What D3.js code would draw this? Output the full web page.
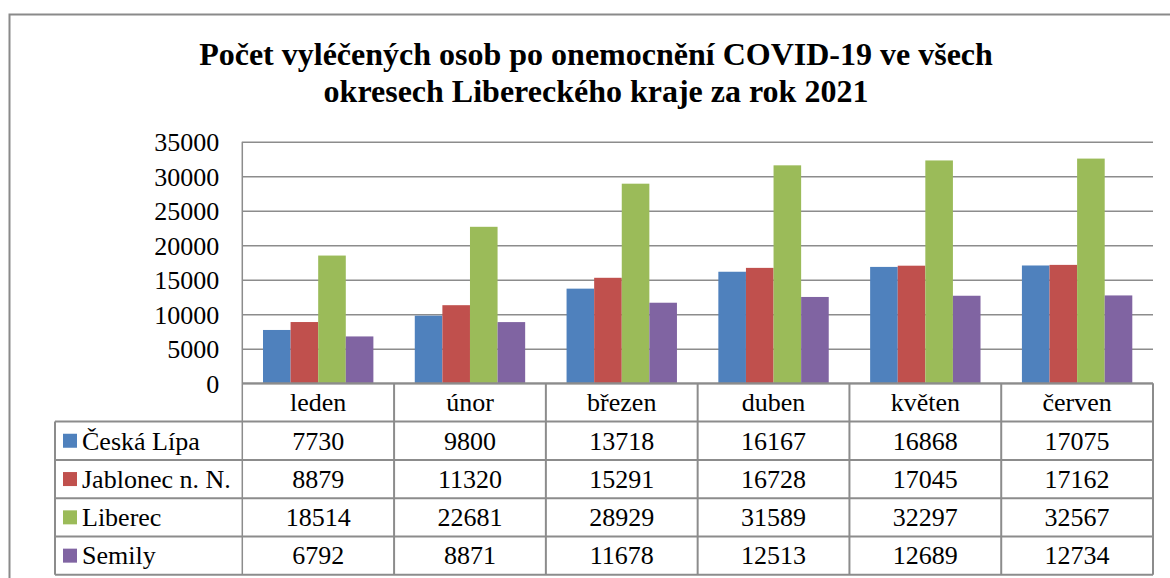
<!DOCTYPE html>
<html>
<head>
<meta charset="utf-8">
<script src="https://cdn.jsdelivr.net/npm/d3@7"></script>
<style>
  html, body { margin: 0; padding: 0; background: #fff; }
  svg { display: block; font-family: "Liberation Serif", "Times New Roman", serif; }
  .axis path { display: none; }
  .axis line { stroke: #8c8c8c; stroke-width: 1.5; }
  .axis text { font-size: 26px; fill: #000; font-family: "Liberation Serif", "Times New Roman", serif; }
</style>
</head>
<body>
<svg id="chart" width="1170" height="578"></svg>
<script>
// data
const months = ['leden', 'únor', 'březen', 'duben', 'květen', 'červen'];
const seriesNames = ['Česká Lípa', 'Jablonec n. N.', 'Liberec', 'Semily'];
const ceskaLipa = [7730, 9800, 13718, 16167, 16868, 17075];
const jablonec = [8879, 11320, 15291, 16728, 17045, 17162];
const liberec = [18514, 22681, 28929, 31589, 32297, 32567];
const semily = [6792, 8871, 11678, 12513, 12689, 12734];
const yTicks = [0, 5000, 10000, 15000, 20000, 25000, 30000, 35000];
const titleLines = ['Počet vyléčených osob po onemocnění COVID-19 ve všech',
                    'okresech Libereckého kraje za rok 2021'];

const seriesValues = [ceskaLipa, jablonec, liberec, semily];
const colors = ['#4f81bd', '#c0504d', '#9bbb59', '#8064a2'];

const margin = { top: 141.8, left: 242.3, right: 1153, bottom: 383.3 };
const rowH = 38.3;
const legendLeft = 55;
const gridColor = '#8c8c8c';
const fontSize = '26px';

const svg = d3.select('#chart');

// chart frame (cut by the page edge on the right and bottom)
svg.append('rect')
    .attr('x', 9.5).attr('y', 14.5)
    .attr('width', 1200).attr('height', 600)
    .attr('fill', 'none')
    .attr('stroke', '#8a8a8a')
    .attr('stroke-width', 2);

// title
svg.append('text')
    .attr('text-anchor', 'middle')
    .style('font-size', '32px')
    .style('font-weight', 'bold')
    .selectAll('tspan')
    .data(titleLines)
    .enter().append('tspan')
    .attr('x', 596)
    .attr('y', (d, i) => 65 + i * 37)
    .text(d => d);

const x0 = d3.scaleBand()
    .domain(months)
    .range([margin.left, margin.right])
    .paddingInner(0).paddingOuter(0);

const x1 = d3.scaleBand()
    .domain(seriesNames)
    .range([0, x0.bandwidth()])
    .paddingInner(0).paddingOuter(0.75);

const y = d3.scaleLinear()
    .domain([0, 35000])
    .range([margin.bottom, margin.top]);

const plotW = margin.right - margin.left;

// y axis with gridlines
const yAxis = d3.axisLeft(y)
    .tickValues(yTicks)
    .tickSize(-plotW)
    .tickPadding(23)
    .tickFormat(d => d);

const gy = svg.append('g')
    .attr('class', 'axis')
    .attr('transform', 'translate(' + margin.left + ',0)')
    .call(yAxis);
gy.attr('font-family', null).attr('font-size', null);
gy.selectAll('text').attr('dy', '0.34em');

// vertical axis line
svg.append('line')
    .attr('x1', margin.left).attr('x2', margin.left)
    .attr('y1', margin.top).attr('y2', margin.bottom + rowH * 5)
    .attr('stroke', gridColor).attr('stroke-width', 1.5);

// bars
const groups = svg.selectAll('.group')
    .data(months)
    .enter().append('g')
    .attr('class', 'group')
    .attr('transform', d => 'translate(' + x0(d) + ',0)');

groups.selectAll('rect')
    .data((m, mi) => seriesNames.map((s, si) => ({ s: s, si: si, v: seriesValues[si][mi] })))
    .enter().append('rect')
    .attr('x', d => x1(d.s))
    .attr('width', x1.bandwidth())
    .attr('y', d => y(d.v))
    .attr('height', d => y(0) - y(d.v))
    .attr('fill', d => colors[d.si]);

// zero line on top of bars
svg.append('line')
    .attr('x1', margin.left).attr('x2', margin.right)
    .attr('y1', y(0)).attr('y2', y(0))
    .attr('stroke', gridColor).attr('stroke-width', 2);

// data table
const table = svg.append('g').attr('class', 'table');
const tableTop = margin.bottom;
const tableBottom = tableTop + rowH * 5;

// horizontal row lines
d3.range(1, 6).forEach(i => {
    table.append('line')
        .attr('x1', legendLeft).attr('x2', margin.right)
        .attr('y1', tableTop + i * rowH).attr('y2', tableTop + i * rowH)
        .attr('stroke', gridColor).attr('stroke-width', 2);
});

// vertical column lines
months.forEach(m => {
    table.append('line')
        .attr('x1', x0(m) + x0.bandwidth()).attr('x2', x0(m) + x0.bandwidth())
        .attr('y1', tableTop).attr('y2', tableBottom)
        .attr('stroke', gridColor).attr('stroke-width', 2);
});
table.append('line')
    .attr('x1', legendLeft).attr('x2', legendLeft)
    .attr('y1', tableTop + rowH).attr('y2', tableBottom)
    .attr('stroke', gridColor).attr('stroke-width', 2);

// header labels
table.selectAll('.cat')
    .data(months)
    .enter().append('text')
    .attr('class', 'cat')
    .attr('x', d => x0(d) + x0.bandwidth() / 2)
    .attr('y', tableTop + rowH / 2)
    .attr('dy', '0.34em')
    .attr('text-anchor', 'middle')
    .style('font-size', fontSize)
    .text(d => d);

// rows
seriesNames.forEach((s, si) => {
    const cy = tableTop + (si + 1) * rowH + rowH / 2;
    table.append('rect')
        .attr('x', 63).attr('y', cy - 7)
        .attr('width', 14).attr('height', 14)
        .attr('fill', colors[si]);
    table.append('text')
        .attr('x', 82).attr('y', cy)
        .attr('dy', '0.34em')
        .style('font-size', fontSize)
        .text(s);
    table.selectAll('.v' + si)
        .data(seriesValues[si])
        .enter().append('text')
        .attr('x', (d, i) => x0(months[i]) + x0.bandwidth() / 2)
        .attr('y', cy)
        .attr('dy', '0.34em')
        .attr('text-anchor', 'middle')
        .style('font-size', fontSize)
        .text(d => d);
});
</script>
</body>
</html>
